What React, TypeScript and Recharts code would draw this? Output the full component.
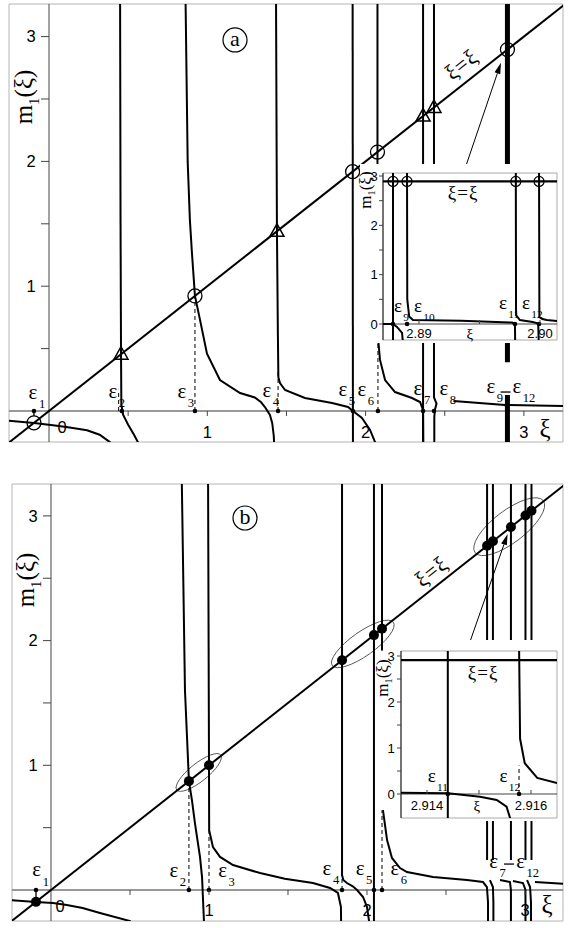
import React from 'react';
import {
  ComposedChart,
  Line,
  Scatter,
  XAxis,
  YAxis,
  ReferenceLine,
  ReferenceDot,
  ReferenceArea,
} from 'recharts';

const SERIF = '"Liberation Serif", "Times New Roman", serif';
const SANS = '"Liberation Sans", Arial, sans-serif';

// ---------------- panel (a): main plot ----------------
const aXDomain = [-0.2527, 3.247];
const aYDomain = [-0.2484, 3.2612];
const aDiagonal = [[-0.3, -0.3], [3.35, 3.35]];
const aBranch1 = [[-0.26, -0.078], [-0.095, -0.096], [0.025, -0.115], [0.12, -0.13], [0.24, -0.155], [0.32, -0.19], [0.385, -0.25], [0.4, -0.35]];
const aBranch2 = [[0.449, 3.35], [0.452, 1.5], [0.455, 0.455], [0.457, 0.05], [0.468, -0.03], [0.5, -0.11], [0.537, -0.19], [0.562, -0.25], [0.575, -0.35]];
const aBranch3 = [[0.862, 3.35], [0.876, 2.0], [0.89, 1.53], [0.903, 1.266], [0.922, 0.922], [0.954, 0.73], [0.998, 0.46], [1.08, 0.248], [1.207, 0.144], [1.3, 0.108], [1.34, 0.07], [1.364, 0.032], [1.395, -0.03], [1.41, -0.096], [1.42, -0.2], [1.425, -0.35]];
const aBranch4 = [[1.434, 3.35], [1.44, 1.44], [1.446, 0.6], [1.449, 0.27], [1.459, 0.224], [1.491, 0.168], [1.617, 0.104], [1.788, 0.064], [1.889, 0.032], [1.92, 0], [1.977, -0.056], [2.028, -0.152], [2.06, -0.25], [2.07, -0.35]];
const aLine5 = [[1.918, 3.35], [1.92, -0.35]];
const aBranch6Top = [[2.075, 3.35], [2.075, 1.9]];
const aBranch6 = [[2.078, 0.593], [2.091, 0.409], [2.123, 0.248], [2.186, 0.152], [2.293, 0.104], [2.344, 0.072], [2.363, 0.008], [2.365, -0.35]];
const aLine7 = [[2.363, 3.35], [2.363, -0.35]];
const aLine8 = [[2.432, 3.35], [2.432, 0.11], [2.448, 0.06], [2.438, 0.01], [2.434, -0.05], [2.434, -0.35]];
const aTail1 = [[2.555, 0.08], [2.88, 0.048], [2.893, 0.03], [2.896, -0.02]];
const aTail2 = [[2.905, 0.048], [3.26, 0.04]];
const aClusterTop = [[2.896, 3.35], [2.896, 0.39]];
const aClusterLow = [[2.896, 0.128], [2.896, -0.35]];

const aFixedCircles = [-0.095, 0.922, 1.918, 2.075, 2.896];
const aFixedTriangles = [0.455, 1.44, 2.363, 2.432];
const aRoots = [-0.095, 0.46, 0.922, 1.447, 1.92, 2.078, 2.363, 2.432];
const aDashTops = [[0.44, 0.17], [0.922, 0.922], [1.447, 0.33], [2.078, 0.593]];
const aStem = [-0.095, -0.04];
const aEps = [
  { x: -0.101, y: 0.136, s: '1' },
  { x: 0.404, y: 0.144, s: '2' },
  { x: 0.84, y: 0.144, s: '3' },
  { x: 1.377, y: 0.152, s: '4' },
  { x: 1.857, y: 0.16, s: '5' },
  { x: 1.977, y: 0.16, s: '6' },
  { x: 2.331, y: 0.168, s: '7' },
  { x: 2.495, y: 0.168, s: '8' },
  { x: 2.792, y: 0.184, s: '9' },
  { x: 2.956, y: 0.184, s: '12' },
];
const aRangeDash = [2.884, 0.152];
const aLetter = [1.175, 2.973];
const aYLabel = [-0.14, 2.516];
const aIdentity = [2.609, 2.772];
const aArrow = [[2.63, 1.95], [2.855, 2.79]];

// ---------------- panel (a): inset ----------------
const iaXDomain = [2.887025, 2.901405];
const iaYDomain = [-0.3243, 3.061];
const iaDiagonal = [[2.886, 2.89], [2.902, 2.89]];
const iaLine9 = [[2.88785, 3.2], [2.88785, -0.4]];
const iaBranch0 = [[2.886, 0], [2.88785, 0], [2.88818, -0.06], [2.8886, -0.18], [2.88868, -0.4]];
const iaBranch10 = [[2.88901, 3.2], [2.88903, 0.5], [2.88919, 0.15], [2.8895, 0.08], [2.8935, 0.065], [2.8977, 0.03], [2.89793, 0], [2.89795, -0.4]];
const iaBranch11 = [[2.898, 3.2], [2.89802, 0.18], [2.89834, 0.08], [2.8994, 0.04], [2.89985, 0.01], [2.8999, -0.4]];
const iaBranch12 = [[2.89992, 3.2], [2.89995, 0.14], [2.9002, 0.1], [2.90055, 0.08], [2.9015, 0.06]];
const iaCrosses = [2.88785, 2.88901, 2.898, 2.89992];
const iaCrossLevel = 2.89;
const iaRoots = [2.88785, 2.88901, 2.89793, 2.89992];
const iaEps = [
  { x: 2.88826, y: 0.324, s: '9' },
  { x: 2.88992, y: 0.324, s: '10' },
  { x: 2.89694, y: 0.385, s: '11' },
  { x: 2.89884, y: 0.385, s: '12' },
];
const iaXTicks = [2.89, 2.895, 2.9];
const iaXTickLabels = ['2.89', '', '2.90'];
const iaYTicks = [0, 0.5, 1, 1.5, 2, 2.5, 3];
const iaYTickLabels = ['0', '', '1', '', '2', '', '3'];
const iaXiLabel = 2.89421;
const iaYLabel = [2.8857, 2.716];
const iaIdentity = [2.89364, 2.656];

// ---------------- panel (b): main plot ----------------
const bXDomain = [-0.2468, 3.2405];
const bYDomain = [-0.2486, 3.2558];
const bDiagonal = [[-0.3, -0.3], [3.35, 3.35]];
const bBranch1 = [[-0.26, -0.08], [-0.095, -0.096], [0.013, -0.104], [0.1, -0.12], [0.2, -0.144], [0.31, -0.184], [0.5, -0.249], [0.53, -0.35]];
const bBranch2 = [[0.827, 3.35], [0.848, 1.6], [0.873, 0.873], [0.892, 0.72], [0.911, 0.537], [0.943, 0.265], [0.956, 0.104], [0.968, -0.249], [0.97, -0.35]];
const bBranch3 = [[0.994, 3.35], [1.0, 1.0], [1.001, 0.48], [1.025, 0.345], [1.07, 0.265], [1.152, 0.2], [1.323, 0.136], [1.48, 0.09], [1.658, 0.056], [1.766, 0.016], [1.816, -0.024], [1.835, -0.136], [1.837, -0.35]];
const bBranch4 = [[1.842, 3.35], [1.842, 0.12], [1.85, 0.08], [1.873, 0.056], [1.91, 0.03], [1.937, 0], [1.975, -0.056], [2.0, -0.136], [2.013, -0.249], [2.016, -0.35]];
const bLine5 = [[2.044, 3.35], [2.044, -0.35]];
const bBranch6Top = [[2.095, 3.35], [2.095, 1.92]];
const bBranch6 = [[2.101, 0.64], [2.127, 0.4], [2.158, 0.257], [2.209, 0.176], [2.253, 0.144], [2.418, 0.104], [2.633, 0.08], [2.734, 0.064], [2.759, 0.024], [2.766, -0.1], [2.766, -0.35]];
const bClusterX = [2.76, 2.797, 2.911, 3.003, 3.041];
const bClusterEnd = 0.24;
const bLow2 = [[2.778, 0.08], [2.797, 0.024], [2.8, -0.1], [2.8, -0.35]];
const bLow3 = [[2.842, 0.08], [2.905, 0.064], [2.911, 0], [2.911, -0.35]];
const bLow4 = [[2.924, 0.072], [2.987, 0.056], [3.003, 0], [3.003, -0.35]];
const bLow5 = [[3.013, 0.08], [3.032, 0.024], [3.038, -0.1], [3.038, -0.35]];
const bTail = [[3.063, 0.064], [3.26, 0.048]];

const bFixedDots = [-0.095, 0.873, 1.0, 1.842, 2.044, 2.095, 2.76, 2.797, 2.911, 3.003, 3.041];
const bRoots = [-0.095, 0.873, 1.0, 1.842, 2.044, 2.095];
const bDashTops = [[0.873, 0.873], [1.0, 0.48], [1.842, 0.12], [2.095, 0.64]];
const bStem = [-0.095, -0.06];
const bEps = [
  { x: -0.09, y: 0.147, s: '1' },
  { x: 0.778, y: 0.144, s: '2' },
  { x: 1.087, y: 0.144, s: '3' },
  { x: 1.747, y: 0.16, s: '4' },
  { x: 1.956, y: 0.16, s: '5' },
  { x: 2.177, y: 0.16, s: '6' },
  { x: 2.801, y: 0.213, s: '7' },
  { x: 2.972, y: 0.213, s: '12' },
];
const bRangeDash = [2.899, 0.208];
const bEllipses = [
  [0.796, 0.802, 1.074, 1.083],
  [1.78, 1.8, 2.167, 2.147],
  [2.684, 2.705, 3.116, 3.122],
];
const bLetter = [1.228, 2.983];
const bYLabel = [-0.14, 2.486];
const bIdentity = [2.411, 2.55];
const bArrow = [[2.646, 1.97], [2.89, 2.855]];

// ---------------- panel (b): inset ----------------
const ibXDomain = [2.9135, 2.9165];
const ibYDomain = [-0.5217, 3.1087];
const ibDiagonal = [[2.9134, 2.91], [2.9166, 2.91]];
const ibLine11 = [[2.9144, 3.3], [2.9144, -0.6]];
const ibBranch0 = [[2.9134, 0.03], [2.9144, 0.015], [2.91502, -0.058], [2.91534, -0.13], [2.91553, -0.276], [2.9156, -0.53], [2.91561, -0.6]];
const ibBranch12 = [[2.91577, 3.3], [2.91579, 1.2], [2.91588, 0.67], [2.91612, 0.35], [2.9165, 0.24]];
const ibRoots = [2.9144, 2.91577];
const ibDashTops = [[2.91577, 0.62]];
const ibEps = [
  { x: 2.91409, y: 0.348, s: '11' },
  { x: 2.91547, y: 0.348, s: '12' },
];
const ibXTicks = [2.914, 2.915, 2.916];
const ibXTickLabels = ['2.914', '', '2.916'];
const ibYTicks = [0, 0.5, 1, 1.5, 2, 2.5, 3];
const ibYTickLabels = ['0', '', '1', '', '2', '', '3'];
const ibXiLabel = 2.91496;
const ibYLabel = [2.91317, 2.52];
const ibIdentity = [2.91508, 2.63];

const mainXTicks = [0.5, 1, 1.5, 2, 2.5, 3];
const mainYTicks = [0.5, 1, 1.5, 2, 2.5, 3];
const mainTickLabels = [1, 2, 3];

// ---------------- helpers ----------------
const toPts = (d: number[][]) => d.map(([x, y]) => ({ x, y }));
const onDiag = (xs: number[]) => xs.map((v) => ({ x: v, y: v }));
const onAxis = (xs: number[]) => xs.map((v) => ({ x: v, y: 0 }));

const curveEls = (list: { d: number[][]; w?: number }[], prefix: string) =>
  list.map((c, i) => (
    <Line
      key={prefix + i}
      data={toPts(c.d)}
      dataKey="y"
      type="linear"
      stroke="#000"
      strokeWidth={c.w ?? 2}
      dot={false}
      activeDot={false}
      isAnimationActive={false}
    />
  ));

const openCircle = (p: any) => <circle cx={p.cx} cy={p.cy} r={7} fill="none" stroke="#000" strokeWidth={1.3} />;
const openTriangle = (p: any) => (
  <polygon
    points={`${p.cx},${p.cy - 7.5} ${p.cx - 7},${p.cy + 5} ${p.cx + 7},${p.cy + 5}`}
    fill="none"
    stroke="#000"
    strokeWidth={1.5}
  />
);
const bigDot = (p: any) => <circle cx={p.cx} cy={p.cy} r={5} fill="#000" />;
const rootDot = (p: any) => <circle cx={p.cx} cy={p.cy} r={2.3} fill="#000" />;
const crossCircle = (p: any) => (
  <g stroke="#000" strokeWidth={1.2} fill="none">
    <circle cx={p.cx} cy={p.cy} r={5} />
    <line x1={p.cx - 5} y1={p.cy} x2={p.cx + 5} y2={p.cy} />
    <line x1={p.cx} y1={p.cy - 5} x2={p.cx} y2={p.cy + 5} />
  </g>
);

const epsShape = (sub: string, size: number) => (p: any) => (
  <g>
    <text x={p.cx} y={p.cy + size * 0.23} textAnchor="middle" fontFamily={SERIF} fontSize={size}>
      ε
    </text>
    <text x={p.cx + size * 0.28} y={p.cy + size * 0.66} fontFamily={SERIF} fontSize={size * 0.6}>
      {sub}
    </text>
  </g>
);

const dashShape = (p: any) => <line x1={p.cx - 5} y1={p.cy} x2={p.cx + 5} y2={p.cy} stroke="#000" strokeWidth={1.3} />;

const m1Shape = (size: number) => (p: any) => (
  <text
    transform={`rotate(-90 ${p.cx} ${p.cy})`}
    x={p.cx}
    y={p.cy + size * 0.22}
    textAnchor="middle"
    fontFamily={SERIF}
    fontSize={size}
  >
    m
    <tspan fontSize={size * 0.6} dy={size * 0.28}>
      1
    </tspan>
    <tspan dy={-size * 0.28}>(ξ)</tspan>
  </text>
);

const identityShape = (size: number, angle: number) => (p: any) => (
  <text
    transform={`rotate(${angle} ${p.cx} ${p.cy})`}
    x={p.cx}
    y={p.cy + size * 0.3}
    textAnchor="middle"
    fontFamily={SERIF}
    fontSize={size}
    letterSpacing={1}
  >
    ξ=ξ
  </text>
);

const circledShape = (ch: string) => (p: any) => (
  <g>
    <circle cx={p.cx} cy={p.cy} r={12} fill="none" stroke="#000" strokeWidth={1.2} />
    <text x={p.cx} y={p.cy + 6} textAnchor="middle" fontFamily={SERIF} fontSize={22}>
      {ch}
    </text>
  </g>
);

const textShape = (t: string, dx: number, dy: number, size: number, family: string) => (p: any) => (
  <text x={p.cx + dx} y={p.cy + dy} textAnchor="middle" fontFamily={family} fontSize={size}>
    {t}
  </text>
);

const tickShape = (vertical: boolean, len: number, label: string, dx: number, dy: number, size: number) => (p: any) => (
  <g>
    <line
      x1={p.cx}
      y1={p.cy}
      x2={vertical ? p.cx : p.cx + len}
      y2={vertical ? p.cy + len : p.cy}
      stroke="#444"
      strokeWidth={1}
    />
    {label ? (
      <text x={p.cx + dx} y={p.cy + dy} textAnchor="middle" fontFamily={SANS} fontSize={size}>
        {label}
      </text>
    ) : null}
  </g>
);

const arrowShape = (p: any) => {
  const { x1, y1, x2, y2 } = p;
  const a = Math.atan2(y2 - y1, x2 - x1);
  const L = 11;
  const W = 3;
  const bx = x2 - L * Math.cos(a);
  const by = y2 - L * Math.sin(a);
  const pts = `${x2},${y2} ${bx - W * Math.sin(a)},${by + W * Math.cos(a)} ${bx + W * Math.sin(a)},${by - W * Math.cos(a)}`;
  return (
    <g>
      <line x1={x1} y1={y1} x2={bx} y2={by} stroke="#000" strokeWidth={1} />
      <polygon points={pts} fill="#000" />
    </g>
  );
};

const ellipseShape = (ry: number) => (p: any) => {
  const cx = (p.x1 + p.x2) / 2;
  const cy = (p.y1 + p.y2) / 2;
  const rx = Math.hypot(p.x2 - p.x1, p.y2 - p.y1) / 2;
  const ang = (Math.atan2(p.y2 - p.y1, p.x2 - p.x1) * 180) / Math.PI;
  return (
    <ellipse cx={cx} cy={cy} rx={rx} ry={ry} transform={`rotate(${ang} ${cx} ${cy})`} fill="none" stroke="#555" strokeWidth={0.9} />
  );
};
const ellipseHalfWidths = [9, 12, 16];

const dot = (key: string, x: number, y: number, shape: any) => (
  <ReferenceDot key={key} x={x} y={y} r={1} ifOverflow="visible" shape={shape} />
);

// ---------------- main panel ----------------
function MainPanel(p: any) {
  const [x0, x1] = p.xDomain;
  const [y0, y1] = p.yDomain;
  return (
    <ComposedChart width={p.width} height={p.height} margin={{ top: 1, right: 1, bottom: 1, left: 1 }}>
      <XAxis type="number" dataKey="x" domain={p.xDomain} allowDataOverflow hide />
      <YAxis type="number" dataKey="y" domain={p.yDomain} allowDataOverflow hide />
      <ReferenceArea x1={x0} x2={x1} y1={y0} y2={y1} fill="none" stroke="#b4b4b4" strokeWidth={1} />
      <ReferenceLine y={0} stroke="#777" strokeWidth={1.6} />
      <ReferenceLine x={0} stroke="#444" strokeWidth={1} />
      {(p.ellipses || []).map((e: number[], i: number) => (
        <ReferenceLine
          key={'el' + i}
          segment={[{ x: e[0], y: e[1] }, { x: e[2], y: e[3] }]}
          shape={ellipseShape(ellipseHalfWidths[i])}
          ifOverflow="visible"
        />
      ))}
      {p.dashes.map(([x, top]: number[], i: number) => (
        <ReferenceLine
          key={'ds' + i}
          segment={[{ x, y: 0 }, { x, y: top }]}
          stroke="#000"
          strokeWidth={1}
          strokeDasharray="4 3"
        />
      ))}
      <ReferenceLine
        segment={[{ x: p.stem[0], y: 0 }, { x: p.stem[0], y: p.stem[1] }]}
        stroke="#000"
        strokeWidth={1.3}
      />
      {curveEls(p.curves, 'c')}
      <ReferenceLine
        segment={[{ x: p.arrow[0][0], y: p.arrow[0][1] }, { x: p.arrow[1][0], y: p.arrow[1][1] }]}
        shape={arrowShape}
      />
      {p.circles ? <Scatter data={onDiag(p.circles)} dataKey="y" shape={openCircle} isAnimationActive={false} /> : null}
      {p.triangles ? <Scatter data={onDiag(p.triangles)} dataKey="y" shape={openTriangle} isAnimationActive={false} /> : null}
      {p.bigDots ? <Scatter data={onDiag(p.bigDots)} dataKey="y" shape={bigDot} isAnimationActive={false} /> : null}
      <Scatter data={onAxis(p.roots)} dataKey="y" shape={rootDot} isAnimationActive={false} />
      {mainXTicks.map((t) =>
        dot('xt' + t, t, 0, tickShape(true, 5, mainTickLabels.includes(t) ? String(t) : '', 0, p.xLabelDy, 16.5)),
      )}
      {mainYTicks.map((t) =>
        dot('yt' + t, 0, t, tickShape(false, -8, mainTickLabels.includes(t) ? String(t) : '', -18, 5.9, 16.5)),
      )}
      {dot('zero', 0, 0, textShape('0', p.zeroDx, 22.5, 16.5, SANS))}
      {dot('xiAxis', p.xiX, 0, textShape('ξ', 0, p.xiDy, 25, SERIF))}
      {p.eps.map((e: any, i: number) => dot('eps' + i, e.x, e.y, epsShape(e.s, 21)))}
      {dot('rdash', p.rangeDash[0], p.rangeDash[1], dashShape)}
      {dot('letter', p.letter[0], p.letter[1], circledShape(p.letterText))}
      {dot('ylab', p.yLabel[0], p.yLabel[1], m1Shape(25))}
      {dot('ident', p.identity[0], p.identity[1], identityShape(22, -38.3))}
    </ComposedChart>
  );
}

// ---------------- inset ----------------
function InsetPanel(p: any) {
  const [x0, x1] = p.xDomain;
  const [y0, y1] = p.yDomain;
  return (
    <ComposedChart width={p.width} height={p.height} margin={p.margin}>
      <XAxis type="number" dataKey="x" domain={p.xDomain} allowDataOverflow hide />
      <YAxis type="number" dataKey="y" domain={p.yDomain} allowDataOverflow hide />
      <ReferenceArea x1={x0} x2={x1} y1={y0} y2={y1} fill="none" stroke="#aaa" strokeWidth={1} />
      <ReferenceLine x={x0} stroke="#333" strokeWidth={1.2} />
      <ReferenceLine y={0} stroke="#444" strokeWidth={1.2} />
      {p.dashes.map(([x, top]: number[], i: number) => (
        <ReferenceLine
          key={'ds' + i}
          segment={[{ x, y: 0 }, { x, y: top }]}
          stroke="#000"
          strokeWidth={1}
          strokeDasharray="4 3"
        />
      ))}
      {curveEls(p.curves, 'ic')}
      {p.crosses ? (
        <Scatter
          data={p.crosses.map((v: number) => ({ x: v, y: p.crossLevel }))}
          dataKey="y"
          shape={crossCircle}
          isAnimationActive={false}
        />
      ) : null}
      <Scatter data={onAxis(p.roots)} dataKey="y" shape={rootDot} isAnimationActive={false} />
      {p.xTicks.map((t: number, i: number) =>
        dot('ixt' + i, t, 0, tickShape(true, -4, p.xTickLabels[i], 0, p.xLabelDy, 13)),
      )}
      {p.yTicks.map((t: number, i: number) =>
        dot('iyt' + i, x0, t, tickShape(false, -4, p.yTickLabels[i], p.yLabelDx, 4.6, 13)),
      )}
      {dot('ixi', p.xiX, 0, textShape('ξ', 0, p.xLabelDy + 1, 15, SERIF))}
      {p.eps.map((e: any, i: number) => dot('ieps' + i, e.x, e.y, epsShape(e.s, 19)))}
      {dot('iylab', p.yLabel[0], p.yLabel[1], m1Shape(17))}
      {dot('iident', p.identity[0], p.identity[1], identityShape(19, 0))}
    </ComposedChart>
  );
}

const panelA = {
  width: 556,
  height: 440,
  xDomain: aXDomain,
  yDomain: aYDomain,
  curves: [
    { d: aDiagonal },
    { d: aBranch1 },
    { d: aBranch2 },
    { d: aBranch3 },
    { d: aBranch4 },
    { d: aLine5 },
    { d: aBranch6Top },
    { d: aBranch6 },
    { d: aLine7 },
    { d: aLine8 },
    { d: aTail1 },
    { d: aTail2 },
    { d: aClusterTop, w: 5 },
    { d: aClusterLow, w: 5 },
  ],
  dashes: aDashTops,
  stem: aStem,
  arrow: aArrow,
  circles: aFixedCircles,
  triangles: aFixedTriangles,
  roots: aRoots,
  eps: aEps,
  rangeDash: aRangeDash,
  letter: aLetter,
  letterText: 'a',
  yLabel: aYLabel,
  identity: aIdentity,
  xLabelDy: 27,
  zeroDx: 13,
  xiX: 3.133,
  xiDy: 26,
};

const panelB = {
  width: 553,
  height: 439,
  xDomain: bXDomain,
  yDomain: bYDomain,
  curves: [
    { d: bDiagonal },
    { d: bBranch1 },
    { d: bBranch2 },
    { d: bBranch3 },
    { d: bBranch4 },
    { d: bLine5 },
    { d: bBranch6Top },
    { d: bBranch6 },
    ...bClusterX.map((x) => ({ d: [[x, 3.35], [x, bClusterEnd]] })),
    { d: bLow2 },
    { d: bLow3 },
    { d: bLow4 },
    { d: bLow5 },
    { d: bTail },
  ],
  dashes: bDashTops,
  stem: bStem,
  arrow: bArrow,
  ellipses: bEllipses,
  bigDots: bFixedDots,
  roots: bRoots,
  eps: bEps,
  rangeDash: bRangeDash,
  letter: bLetter,
  letterText: 'b',
  yLabel: bYLabel,
  identity: bIdentity,
  xLabelDy: 26,
  zeroDx: 9,
  xiX: 3.139,
  xiDy: 23,
};

const insetA = {
  width: 198,
  height: 179,
  margin: { top: 9, right: 1, bottom: 3, left: 23 },
  xDomain: iaXDomain,
  yDomain: iaYDomain,
  curves: [
    { d: iaDiagonal, w: 2.2 },
    { d: iaLine9 },
    { d: iaBranch0 },
    { d: iaBranch10 },
    { d: iaBranch11 },
    { d: iaBranch12 },
  ],
  dashes: [],
  crosses: iaCrosses,
  crossLevel: iaCrossLevel,
  roots: iaRoots,
  eps: iaEps,
  xTicks: iaXTicks,
  xTickLabels: iaXTickLabels,
  yTicks: iaYTicks,
  yTickLabels: iaYTickLabels,
  xLabelDy: 13.8,
  yLabelDx: -9,
  xiX: iaXiLabel,
  yLabel: iaYLabel,
  identity: iaIdentity,
};

const insetB = {
  width: 172,
  height: 181,
  margin: { top: 11, right: 1, bottom: 3, left: 15 },
  xDomain: ibXDomain,
  yDomain: ibYDomain,
  curves: [{ d: ibDiagonal, w: 2.2 }, { d: ibLine11 }, { d: ibBranch0 }, { d: ibBranch12 }],
  dashes: ibDashTops,
  roots: ibRoots,
  eps: ibEps,
  xTicks: ibXTicks,
  xTickLabels: ibXTickLabels,
  yTicks: ibYTicks,
  yTickLabels: ibYTickLabels,
  xLabelDy: 15.5,
  yLabelDx: -10,
  xiX: ibXiLabel,
  yLabel: ibYLabel,
  identity: ibIdentity,
};

export default function App() {
  return (
    <div style={{ position: 'absolute', left: 0, top: 0, width: 572, height: 928, background: '#fff', overflow: 'hidden' }}>
      <style>{'.inset-box .recharts-surface{overflow:visible}'}</style>
      <div style={{ position: 'absolute', left: 8, top: 3, width: 556, height: 440 }}>
        <MainPanel {...panelA} />
      </div>
      <div className="inset-box" style={{ position: 'absolute', left: 360, top: 164, width: 198, height: 179, background: '#fff' }}>
        <InsetPanel {...insetA} />
      </div>
      <div style={{ position: 'absolute', left: 11, top: 483, width: 553, height: 439 }}>
        <MainPanel {...panelB} />
      </div>
      <div className="inset-box" style={{ position: 'absolute', left: 386, top: 640, width: 172, height: 181, background: '#fff' }}>
        <InsetPanel {...insetB} />
      </div>
    </div>
  );
}
